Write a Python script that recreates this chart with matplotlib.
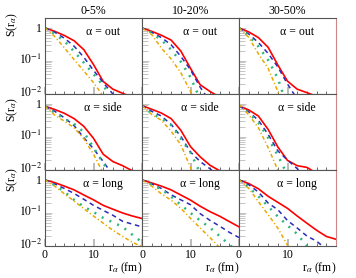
import numpy as np
import matplotlib
matplotlib.use('Agg')
import matplotlib.pyplot as plt
import matplotlib.transforms as mtransforms
from matplotlib.ticker import FixedLocator, FixedFormatter, MultipleLocator, NullFormatter

plt.rcParams['font.family'] = ['Liberation Serif', 'DejaVu Serif']
plt.rcParams['mathtext.fontset'] = 'stix'

nan = np.nan

# radial grid (fm)
R = [0, 2, 4, 6, 8, 10, 12, 14, 16, 18, 20]

CENTRALITIES = ['0-5%', '10-20%', '30-50%']
DIRECTIONS = ['out', 'side', 'long']
YTICKS = [0.01, 0.1, 1]
YTICK_LABELS = [r'$10^{-2}$', r'$10^{-1}$', '1']

# ---- 0-5% ----
red_out_0 = [1.0, 0.79, 0.59, 0.41, 0.22, 0.078, 0.024, 0.014, 0.0105, 0.008, nan]
blue_out_0 = [1.0, 0.74, 0.49, 0.28, 0.13, 0.052, 0.022, 0.010, 0.005, nan, nan]
green_out_0 = [1.0, 0.66, 0.40, 0.195, 0.089, 0.040, 0.018, 0.007, nan, nan, nan]
orange_out_0 = [1.0, 0.55, 0.25, 0.11, 0.050, 0.022, 0.0087, 0.004, nan, nan, nan]

red_side_0 = [0.85, 0.68, 0.52, 0.36, 0.21, 0.091, 0.030, 0.018, 0.0135, 0.0095, nan]
blue_side_0 = [0.85, 0.60, 0.38, 0.22, 0.095, 0.044, 0.018, 0.007, nan, nan, nan]
green_side_0 = [0.85, 0.54, 0.35, 0.25, 0.14, 0.048, 0.016, 0.006, nan, nan, nan]
orange_side_0 = [0.85, 0.46, 0.30, 0.19, 0.089, 0.030, 0.008, nan, nan, nan, nan]

red_long_0 = [1.0, 0.83, 0.65, 0.50, 0.35, 0.25, 0.17, 0.13, 0.10, 0.081, 0.068]
blue_long_0 = [1.0, 0.76, 0.55, 0.39, 0.26, 0.17, 0.12, 0.085, 0.056, 0.046, 0.038]
green_long_0 = [1.0, 0.69, 0.44, 0.25, 0.155, 0.107, 0.071, 0.052, 0.038, 0.022, 0.013]
orange_long_0 = [1.0, 0.65, 0.38, 0.23, 0.135, 0.081, 0.049, 0.030, 0.0195, 0.013, 0.0095]

# ---- 10-20% ----
red_out_1 = [1.0, 0.79, 0.60, 0.43, 0.20, 0.060, 0.019, 0.012, 0.008, nan, nan]
blue_out_1 = [1.0, 0.74, 0.51, 0.31, 0.138, 0.054, 0.016, 0.006, nan, nan, nan]
green_out_1 = [1.0, 0.71, 0.43, 0.22, 0.095, 0.032, 0.007, nan, nan, nan, nan]
orange_out_1 = [1.0, 0.63, 0.245, 0.115, 0.044, 0.012, 0.003, nan, nan, nan, nan]

red_side_1 = [0.89, 0.69, 0.53, 0.36, 0.16, 0.051, 0.025, 0.014, 0.0095, nan, nan]
blue_side_1 = [0.89, 0.60, 0.43, 0.24, 0.105, 0.035, 0.018, 0.011, 0.006, nan, nan]
green_side_1 = [0.89, 0.51, 0.36, 0.23, 0.089, 0.034, 0.008, nan, nan, nan, nan]
orange_side_1 = [0.89, 0.48, 0.32, 0.15, 0.058, 0.012, 0.002, nan, nan, nan, nan]

red_long_1 = [1.0, 0.81, 0.65, 0.50, 0.35, 0.245, 0.16, 0.11, 0.080, 0.055, 0.038]
blue_long_1 = [1.0, 0.76, 0.55, 0.355, 0.25, 0.178, 0.095, 0.060, 0.040, 0.026, 0.018]
green_long_1 = [1.0, 0.72, 0.52, 0.31, 0.178, 0.10, 0.059, 0.036, 0.020, 0.011, 0.006]
orange_long_1 = [1.0, 0.65, 0.38, 0.245, 0.138, 0.069, 0.035, 0.018, 0.009, nan, nan]

# ---- 30-50% ----
red_out_2 = [1.0, 0.76, 0.51, 0.26, 0.076, 0.0245, 0.014, 0.011, 0.0085, nan, nan]
blue_out_2 = [1.0, 0.66, 0.36, 0.17, 0.066, 0.020, 0.007, nan, nan, nan, nan]
green_out_2 = [1.0, 0.58, 0.275, 0.107, 0.030, 0.004, nan, nan, nan, nan, nan]
orange_out_2 = [1.0, 0.52, 0.165, 0.060, 0.012, 0.002, nan, nan, nan, nan, nan]

red_side_2 = [0.87, 0.66, 0.43, 0.17, 0.050, 0.0195, 0.0135, 0.012, 0.008, nan, nan]
blue_side_2 = [0.87, 0.58, 0.32, 0.12, 0.038, 0.020, 0.011, 0.006, nan, nan, nan]
green_side_2 = [0.87, 0.54, 0.27, 0.095, 0.0275, 0.007, nan, nan, nan, nan, nan]
orange_side_2 = [0.97, 0.47, 0.19, 0.048, 0.010, 0.002, nan, nan, nan, nan, nan]

red_long_2 = [1.0, 0.78, 0.54, 0.32, 0.21, 0.138, 0.081, 0.049, 0.030, 0.0195, 0.016]
blue_long_2 = [1.0, 0.72, 0.43, 0.20, 0.126, 0.059, 0.035, 0.020, 0.014, 0.008, nan]
green_long_2 = [1.0, 0.60, 0.32, 0.16, 0.078, 0.042, 0.023, 0.010, 0.004, nan, nan]
orange_long_2 = [1.0, 0.56, 0.22, 0.089, 0.035, 0.0105, 0.003, nan, nan, nan, nan]

# estilos de las curvas
STYLES = [
    dict(color='#ff0000', lw=1.2, ls='-'),
    dict(color='#2b2bb8', lw=1.1, ls=(0, (3, 2.5))),
    dict(color='#2cb57c', lw=1.8, ls=(0, (0.8, 2.6))),
    dict(color='#e8a800', lw=1.1, ls=(0, (2.5, 1.6, 0.8, 1.6))),
]

g = globals()
fig, axes = plt.subplots(3, 3, figsize=(3.56, 2.78), dpi=100, sharex=True, sharey=True)
fig.subplots_adjust(left=45/356, right=336/356, top=1-18/278, bottom=1-246/278,
                    hspace=0, wspace=0)

for i, d in enumerate(DIRECTIONS):
    for j, c in enumerate(CENTRALITIES):
        ax = axes[i, j]
        for k, name in enumerate(['red', 'blue', 'green', 'orange']):
            ax.plot(R, g[f'{name}_{d}_{j}'], **STYLES[k])
        ax.set_yscale('log')
        ax.set_xlim(0, 20)
        ax.set_ylim(0.01, 2)
        ax.text(0.6, 0.82, '\u03b1 = ' + d, transform=ax.transAxes,
                ha='center', va='center', fontsize=8.5)
        for s in ax.spines.values():
            s.set_color('#555555')
            s.set_linewidth(0.8)
        if j == 2:
            ax.spines['right'].set_color('#cc8888')
        if i == 0:
            ax.set_title(c, fontsize=8.5, pad=3)

# ejes compartidos: configurar después de set_yscale
ax = axes[0, 0]
ax.xaxis.set_major_locator(FixedLocator([0, 10]))
ax.xaxis.set_minor_locator(MultipleLocator(2))
ax.yaxis.set_major_locator(FixedLocator(YTICKS))
ax.yaxis.set_major_formatter(FixedFormatter(YTICK_LABELS))
ax.yaxis.set_minor_locator(FixedLocator(
    [m * 10.0**e for e in (-2, -1, 0) for m in range(2, 10)]))
ax.yaxis.set_minor_formatter(NullFormatter())

for ax in axes.flat:
    ax.tick_params(axis='both', which='both', direction='in')
    ax.tick_params(axis='x', which='major', length=5, width=1.4, color='#bbbbbb')
    ax.tick_params(axis='x', which='minor', length=2.5, width=0.6, color='#555555')
    ax.tick_params(axis='y', which='major', length=5, width=0.6, color='#bbbbbb')
    ax.tick_params(axis='y', which='minor', length=4, width=0.6, color='#bbbbbb')
    ax.tick_params(labelsize=8.5, pad=2)

# subir las etiquetas 10^n para que el "10" quede sobre la marca
fig.canvas.draw()
shift = mtransforms.ScaledTranslation(0, 3/100, fig.dpi_scale_trans)
for ax in axes[:, 0]:
    for lab in ax.get_yticklabels():
        if '10' in lab.get_text():
            lab.set_transform(lab.get_transform() + shift)

# etiquetas de los ejes
for i, ypx in enumerate([25, 110, 180]):
    fig.text(12/356, 1 - ypx/278, 'S(r$_{\u03b1}$)', rotation=90,
             ha='center', va='center', fontsize=8.5)
for j in range(3):
    xpx = 45 + 97 * j + 80
    fig.text(xpx/356, 1 - 268/278, 'r$_{\u03b1}$ (fm)', ha='center', va='center',
             fontsize=8.5)

fig.savefig('out.png', dpi=100)
